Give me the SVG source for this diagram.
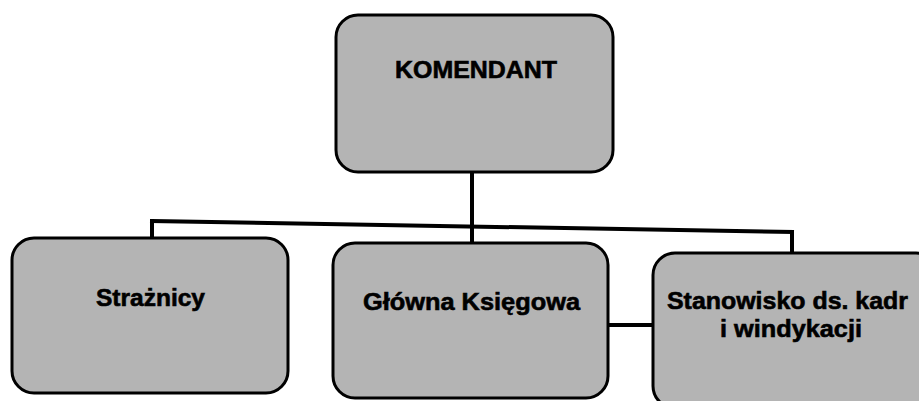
<svg xmlns="http://www.w3.org/2000/svg" width="919" height="401" viewBox="0 0 919 401">
  <style>
    .box { fill: #b4b4b4; stroke: #000; stroke-width: 3; }
    .lbl { font-family: "Liberation Sans", Arial, sans-serif; font-weight: bold; font-size: 24px; fill: #000; stroke: #000; stroke-width: 0.6; }
    .conn { stroke: #000; stroke-width: 4; fill: none; stroke-linecap: square; }
  </style>
  <rect width="919" height="401" fill="#fff"/>
  <g id="connectors">
    <line class="conn" x1="472" y1="172" x2="472" y2="243"/>
    <line class="conn" x1="152" y1="221" x2="792" y2="232"/>
    <line class="conn" x1="152" y1="221" x2="152" y2="238"/>
    <line class="conn" x1="792" y1="232" x2="792" y2="253"/>
    <line class="conn" x1="608" y1="325" x2="653" y2="325"/>
  </g>
  <g id="komendant">
    <rect class="box" x="336" y="15" width="277" height="157" rx="22" ry="22"/>
    <text class="lbl" x="395" y="78" textLength="162" lengthAdjust="spacingAndGlyphs">KOMENDANT</text>
  </g>
  <g id="straznicy">
    <rect class="box" x="12" y="238" width="276" height="155" rx="22" ry="22"/>
    <text class="lbl" x="96" y="306" textLength="109" lengthAdjust="spacingAndGlyphs">Strażnicy</text>
  </g>
  <g id="glowna-ksiegowa">
    <rect class="box" x="333" y="243" width="275" height="155" rx="22" ry="22"/>
    <text class="lbl" x="363" y="310" textLength="217" lengthAdjust="spacingAndGlyphs">Główna Księgowa</text>
  </g>
  <g id="stanowisko-kadr">
    <rect class="box" x="653" y="253" width="285" height="155" rx="22" ry="22"/>
    <text class="lbl" x="667" y="309" textLength="241" lengthAdjust="spacingAndGlyphs">Stanowisko ds. kadr</text>
    <text class="lbl" x="720" y="337" textLength="142" lengthAdjust="spacingAndGlyphs">i windykacji</text>
  </g>
</svg>
